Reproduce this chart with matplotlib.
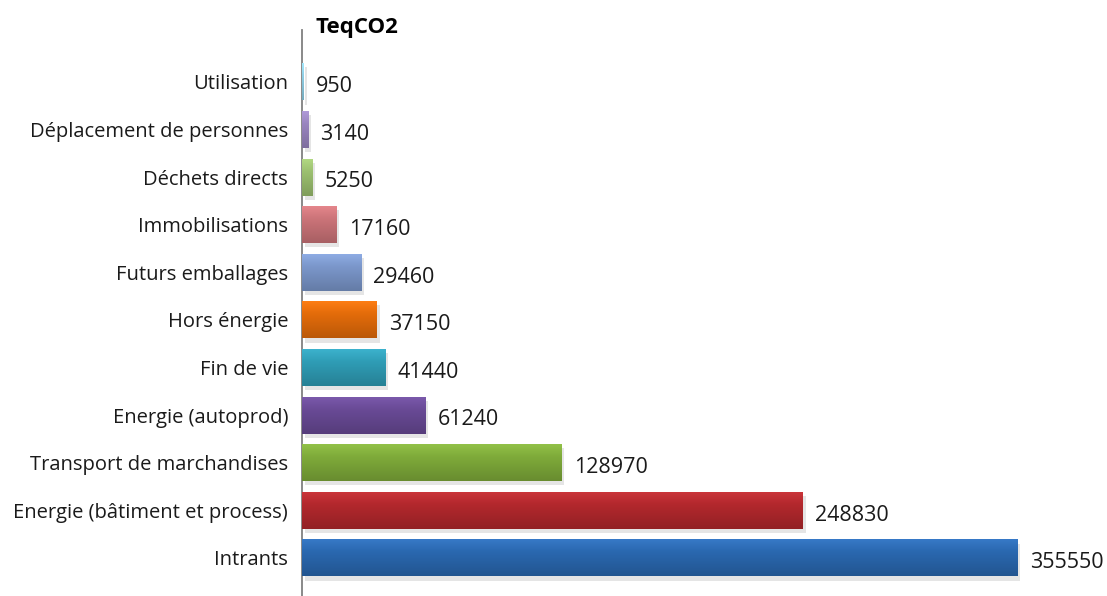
import numpy as np
import matplotlib.pyplot as plt
import matplotlib.patheffects as pe
from matplotlib.colors import to_rgb

categories = ["Intrants", "Energie (bâtiment et process)", "Transport de marchandises",
              "Energie (autoprod)", "Fin de vie", "Hors énergie", "Futurs emballages",
              "Immobilisations", "Déchets directs", "Déplacement de personnes", "Utilisation"]
values = [355550, 248830, 128970, 61240, 41440, 37150, 29460, 17160, 5250, 3140, 950]
colors = ["#2a68b0", "#b3282d", "#7fab3a", "#694a96", "#2f9db6", "#e46c0a",
          "#7b97cb", "#cc7479", "#9cc070", "#9a86c0", "#8fcfe6"]

fig = plt.figure(figsize=(11.07, 5.96), dpi=100)
ax = fig.add_axes([302 / 1107, 0.0, 805 / 1107, 0.9497])

y = np.arange(len(categories))
bars = ax.barh(y, values, height=0.78, color=colors, zorder=2,
               path_effects=[pe.SimplePatchShadow(offset=(2, -3), shadow_rgbFace="#aaaaaa", alpha=0.3),
                             pe.Normal()])

# gradient on each bar, lighter on top and darker at the bottom
for b, c in zip(bars, colors):
    r, g, bl = to_rgb(c)
    t = np.linspace(0, 1, 64)[:, None]
    top = np.array([min(1, r * 1.08 + 0.04), min(1, g * 1.08 + 0.04), min(1, bl * 1.08 + 0.04)])
    bot = np.array([r * 0.82, g * 0.82, bl * 0.82])
    mid = np.array([r, g, bl])
    grad = np.where(t < 0.35, top + (mid - top) * (t / 0.35), mid + (bot - mid) * ((t - 0.35) / 0.65))
    img = grad[:, None, :].repeat(2, axis=1)
    x0, y0 = b.get_x(), b.get_y()
    im = ax.imshow(img, extent=(x0, x0 + b.get_width(), y0, y0 + b.get_height()),
                   origin="upper", aspect="auto", zorder=3, interpolation="bilinear")
    im.set_clip_path(b)

for yi, v in zip(y, values):
    ax.text(v + 6000, yi - 0.1, str(v), va="center", ha="left",
            fontsize=15.5, family="Open Sans", color="#1a1a1a")

ax.set_xlim(0, 400000)
ax.set_ylim(-0.8, 11.09)
ax.set_yticks(y)
ax.set_yticklabels(categories, fontsize=14.5, family="Open Sans", color="#1a1a1a")
ax.tick_params(axis="y", length=0, pad=10)
ax.set_xticks([])
for s in ["top", "right", "bottom"]:
    ax.spines[s].set_visible(False)
ax.spines["left"].set_color("#808080")
ax.spines["left"].set_linewidth(1.3)

fig.text(316 / 1107, 1 - 28 / 596, "TeqCO2", fontsize=16, fontweight="bold",
         family="Open Sans", va="center", ha="left")

fig.savefig("out.png", dpi=100)
